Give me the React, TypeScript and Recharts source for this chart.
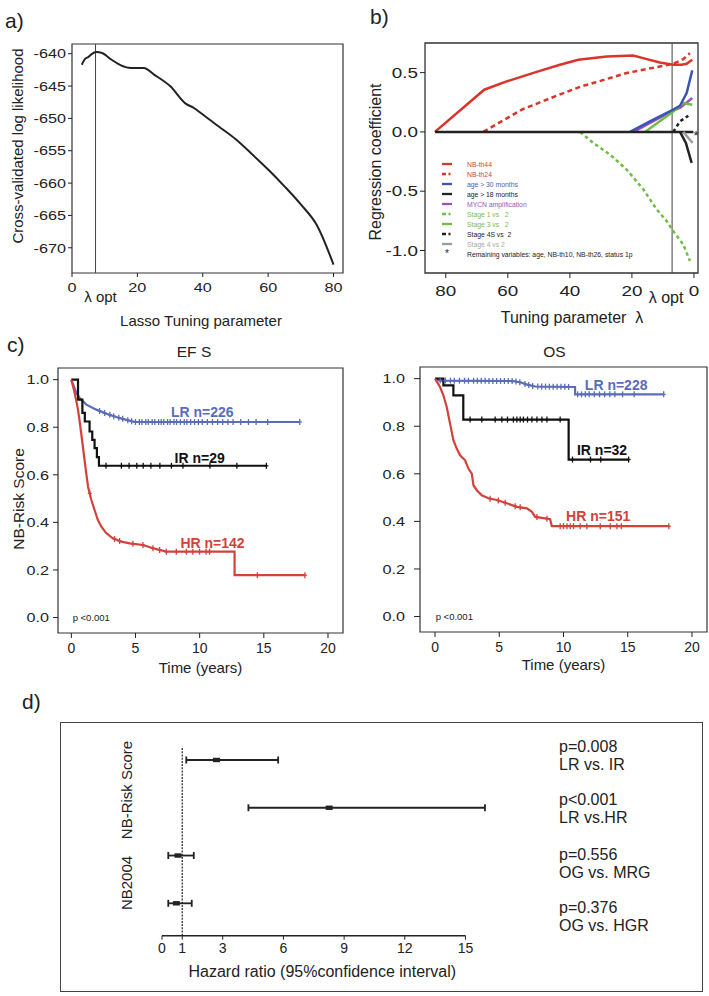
import React from "react";
import {
  LineChart,
  Line,
  ComposedChart,
  ScatterChart,
  Scatter,
  ErrorBar,
  XAxis,
  YAxis,
  ReferenceLine,
  ReferenceArea,
  ReferenceDot,
  Legend,
} from "recharts";

const FONT = "'Liberation Sans', Arial, Helvetica, sans-serif";
const INK = "#222222";

// a) cross-validated log likelihood vs lasso tuning parameter
const cvLambda = [3, 4, 5, 5.9, 7.5, 9, 12, 15, 18, 22, 25, 30, 35, 37, 40, 45, 50, 55, 60, 65, 70, 75, 80];
const cvLogLik = [
  -641.7, -640.8, -640.5, -640.1, -639.75, -639.85, -640.9, -641.8, -642.2, -642.2, -643.2, -645.0,
  -647.8, -648.3, -649.4, -651.3, -653.2, -655.5, -657.9, -660.5, -663.3, -666.6, -672.6,
];
const cvTicksX = [0, 20, 40, 60, 80];
const cvTicksY = [-640, -645, -650, -655, -660, -665, -670];
const lambdaOptA = 7.2;

// b) coefficient paths (lambda decreasing to the right)
const th44Lam = [83.5, 67.6, 60.4, 50.2, 43.2, 37.3, 28.1, 19.6, 15.2, 11.0, 6.7, 4.0, 2.4, 0.55];
const th44Coef = [0, 0.356, 0.426, 0.511, 0.567, 0.609, 0.636, 0.645, 0.614, 0.586, 0.567, 0.567, 0.575, 0.609];
const th24Lam = [67.9, 55.5, 44.8, 36.2, 32.5, 21.7, 11.0, 6.7, 3.45, 1.3];
const th24Coef = [0, 0.188, 0.3, 0.385, 0.412, 0.497, 0.552, 0.575, 0.614, 0.665];
const age30Lam = [20.6, 14.2, 6.67, 4.5, 2.36, 0.55];
const age30Coef = [0, 0.089, 0.188, 0.221, 0.328, 0.519];
const age18Lam = [4.5, 2.6, 0.75];
const age18Coef = [0, -0.093, -0.261];
const mycnLam = [19.5, 6.67, 4.5, 0.55];
const mycnCoef = [0, 0.182, 0.202, 0.286];
const st1Lam = [36.7, 32.45, 27.1, 21.7, 16.3, 12.0, 8.8, 6.67, 3.45, 1.3];
const st1Coef = [0, -0.093, -0.19, -0.317, -0.486, -0.654, -0.752, -0.837, -0.949, -1.089];
const st3Lam = [15.8, 6.67, 3.45, 0.55];
const st3Coef = [0, 0.173, 0.244, 0.23];
const st4sLam = [6.67, 4.5, 1.83];
const st4sCoef = [0, 0.089, 0.137];
const st4Lam = [3.45, 0.43];
const st4Coef = [0, -0.093];
const zeroLam = [83.5, 0.2];
const zeroCoef = [0, 0];
const coefTicksX = [0, 20, 40, 60, 80];
const coefTicksY = [0.5, 0, -0.5, -1.0];
const lambdaOptB = 7.05;

const legendNames = [
  "NB-th44",
  "NB-th24",
  "age > 30 months",
  "age > 18 months",
  "MYCN amplification",
  "Stage 1 vs   2",
  "Stage 3 vs   2",
  "Stage 4S vs  2",
  "Stage 4 vs 2",
  "Remaining variables: age, NB-th10, NB-th26, status 1p",
];

// c) Kaplan-Meier, EFS
const efsLrT = [0, 0.39, 0.65, 1.17, 1.95, 2.73, 3.5, 4.28, 4.93, 17.8];
const efsLrS = [1.0, 0.944, 0.923, 0.895, 0.874, 0.857, 0.843, 0.831, 0.822, 0.822];
const efsLrCens = [
  2.2, 2.6, 3.0, 3.3, 3.7, 4.0, 4.4, 4.7, 5.0, 5.3, 5.5, 5.8, 6.0, 6.3, 6.5, 6.8, 7.0, 7.2, 7.5, 7.7,
  8.0, 8.2, 8.5, 8.8, 9.0, 9.3, 9.6, 9.9, 10.2, 10.6, 11.0, 11.4, 11.8, 12.2, 12.6, 13.2, 13.8, 14.4, 15.3, 17.8,
];
const efsIrT = [0, 0.52, 0.86, 1.05, 1.42, 1.63, 1.81, 1.99, 2.15, 15.2];
const efsIrS = [1.0, 0.916, 0.86, 0.824, 0.782, 0.747, 0.712, 0.674, 0.638, 0.638];
const efsIrCens = [2.7, 3.9, 4.5, 5.1, 5.6, 6.2, 6.9, 7.8, 8.7, 10.8, 12.9, 15.2];
const efsHrT = [0, 0.26, 0.52, 0.7, 0.9, 1.09, 1.3, 1.56, 1.81, 2.07, 2.34, 2.73, 3.24, 3.9, 4.54, 5.58, 6.36, 7.4, 12.72, 12.72, 18.2];
const efsHrS = [
  1.0, 0.944, 0.874, 0.803, 0.719, 0.635, 0.55, 0.494, 0.452, 0.41, 0.382, 0.354, 0.333, 0.319, 0.312,
  0.305, 0.291, 0.277, 0.277, 0.178, 0.178,
];
const efsHrCens = [1.43, 3.37, 3.76, 4.8, 5.58, 6.36, 6.88, 7.4, 8.18, 8.96, 9.47, 9.99, 10.5, 10.77, 14.5, 18.2];

// c) Kaplan-Meier, OS
const osLrT = [0, 0.4, 6.1, 6.75, 7.1, 7.8, 10.9, 10.9, 17.8];
const osLrS = [1.0, 0.992, 0.99, 0.983, 0.976, 0.967, 0.965, 0.934, 0.934];
const osLrCens = [
  0.4, 0.8, 1.2, 1.5, 1.9, 2.3, 2.6, 3.0, 3.3, 3.6, 3.9, 4.2, 4.5, 4.8, 5.1, 5.4, 5.7, 6.0, 6.3, 6.6, 7.0,
  7.3, 7.6, 8.0, 8.3, 8.6, 8.9, 9.2, 9.5, 9.8, 10.1, 10.4, 11.1, 11.4, 11.7, 12.0, 12.4, 12.8, 13.2, 13.6,
  14.0, 14.6, 15.5, 17.8,
];
const osIrT = [0, 0.65, 1.43, 2.2, 10.4, 15.07];
const osIrS = [1.0, 0.972, 0.93, 0.828, 0.66, 0.66];
const osIrCens = [2.73, 3.64, 4.68, 5.2, 5.64, 6.1, 6.37, 6.63, 6.88, 7.2, 7.54, 7.93, 8.32, 8.71, 9.74, 10.7, 12.1, 12.9, 15.07];
const osHrT = [
  0, 0.39, 0.65, 0.91, 1.17, 1.43, 1.69, 1.95, 2.34, 2.6, 2.86, 2.99, 3.25, 3.64, 4.16, 4.81, 5.59, 6.37,
  7.15, 7.54, 7.8, 8.57, 8.96, 9.09, 18.2,
];
const osHrS = [
  1.0, 0.965, 0.93, 0.881, 0.811, 0.741, 0.706, 0.678, 0.657, 0.622, 0.601, 0.552, 0.531, 0.51, 0.497,
  0.49, 0.476, 0.461, 0.455, 0.44, 0.419, 0.413, 0.409, 0.38, 0.38,
];
const osHrCens = [4.29, 4.93, 5.46, 6.24, 6.63, 7.93, 8.71, 9.74, 10.0, 10.27, 10.52, 10.78, 11.3, 11.82, 12.86, 13.64, 14.16, 14.5, 18.2];

const kmTicksX = [0, 5, 10, 15, 20];
const kmTicksY = [0, 0.2, 0.4, 0.6, 0.8, 1.0];

// d) forest plot
const hrRows = [4, 3, 2, 1];
const hrEst = [2.69, 8.26, 0.79, 0.71];
const hrLow = [1.2, 4.27, 0.31, 0.31];
const hrHigh = [5.74, 15.96, 1.57, 1.47];
const hrTicks = [0, 1, 3, 6, 9, 12, 15];
const pValues = ["p=0.008", "p<0.001", "p=0.556", "p=0.376"];
const comparisons = ["LR vs. IR", "LR vs.HR", "OG vs. MRG", "OG vs. HGR"];

const RED = "#d9352b";
const BLUE = "#3b55b2";
const PURPLE = "#a24fc0";
const GREEN = "#6fbd45";
const GREY = "#9c9c9c";
const KM_BLUE = "#5a6db8";
const KM_RED = "#d2423b";

const zip = (xs: number[], ys: number[], kx: string, ky: string) =>
  xs.map((x, i) => ({ [kx]: x, [ky]: ys[i] }));

const coefSeries = [
  { lam: st1Lam, coef: st1Coef, color: GREEN, dash: "3.5 3" },
  { lam: th24Lam, coef: th24Coef, color: RED, dash: "5 3.5" },
  { lam: th44Lam, coef: th44Coef, color: RED, dash: undefined },
  { lam: mycnLam, coef: mycnCoef, color: PURPLE, dash: undefined },
  { lam: st3Lam, coef: st3Coef, color: GREEN, dash: undefined },
  { lam: age30Lam, coef: age30Coef, color: BLUE, dash: undefined },
  { lam: zeroLam, coef: zeroCoef, color: INK, dash: undefined },
  { lam: st4sLam, coef: st4sCoef, color: INK, dash: "3.5 3" },
  { lam: st4Lam, coef: st4Coef, color: GREY, dash: undefined },
  { lam: age18Lam, coef: age18Coef, color: INK, dash: undefined },
];

const legendStyles = [
  { line: RED, text: "#c9453d", dash: undefined },
  { line: RED, text: "#c9453d", dash: "4 2.5 2 10" },
  { line: BLUE, text: "#4c60b0", dash: undefined },
  { line: INK, text: INK, dash: undefined },
  { line: PURPLE, text: "#a055b8", dash: undefined },
  { line: GREEN, text: "#78bb52", dash: "4 2.5 2 10" },
  { line: GREEN, text: "#78bb52", dash: undefined },
  { line: INK, text: INK, dash: "4 2.5 2 10" },
  { line: GREY, text: "#a8a8a8", dash: undefined },
  { line: null, text: INK, dash: undefined },
];

function CoefLegend() {
  return (
    <div style={{ fontFamily: FONT, fontSize: 6.8 }}>
      {legendNames.map((name, i) => {
        const st = legendStyles[i];
        return (
          <div key={name} style={{ display: "flex", alignItems: "center", height: 10, whiteSpace: "pre" }}>
            {st.line ? (
              <svg width={25} height={10} style={{ flex: "none" }}>
                <line x1={0} x2={10} y1={5} y2={5} stroke={st.line} strokeWidth={2.3} strokeDasharray={st.dash} />
              </svg>
            ) : (
              <span style={{ width: 10, marginRight: 15, textAlign: "center", fontSize: 10, lineHeight: "10px", flex: "none" }}>*</span>
            )}
            <span style={{ color: st.text }}>{name}</span>
          </div>
        );
      })}
    </div>
  );
}

// tick labels drawn slightly wide, as in the (horizontally stretched) original figure
const wideTick = (sx: number, fontSize: number, vertical: boolean, fmt?: (v: number) => string) => (props: any) => {
  const { x, y, payload } = props;
  const label = fmt ? fmt(payload.value) : String(payload.value);
  return (
    <g transform={`translate(${x},${y}) scale(${sx},1)`}>
      <text x={0} y={0} textAnchor={vertical ? "end" : "middle"} dy={vertical ? "0.35em" : "0.71em"} fontSize={fontSize} fill={INK}>
        {label}
      </text>
    </g>
  );
};

const fmt1 = (v: number) => v.toFixed(1);

// position of a censoring mark on the drawn curve
function survAt(ts: number[], ss: number[], t: number, step: boolean) {
  let i = 0;
  while (i + 1 < ts.length && ts[i + 1] <= t) i++;
  if (step || i + 1 >= ts.length || ts[i + 1] === ts[i]) return ss[i];
  const f = (t - ts[i]) / (ts[i + 1] - ts[i]);
  return ss[i] + f * (ss[i + 1] - ss[i]);
}

const censorShape = (color: string) => (props: any) => {
  const { cx, cy } = props;
  return (
    <g stroke={color} strokeWidth={1.3}>
      <line x1={cx} x2={cx} y1={cy - 3} y2={cy + 3} />
      <line x1={cx - 2} x2={cx + 2} y1={cy} y2={cy} />
    </g>
  );
};

type Km = { t: number[]; s: number[]; cens: number[]; color: string; step: boolean };
type KmLabel = { t: number; s: number; text: string; color: string };

function KmChart(props: {
  width: number;
  margin: { top: number; right: number; bottom: number; left: number };
  yWidth: number;
  yTickSize: number;
  yTickMargin: number;
  xDomain: [number, number];
  xLabelOffset: number;
  yLabel?: string;
  curves: Km[];
  labels: KmLabel[];
  pAt: number;
}) {
  const { width, margin, yWidth, yTickSize, yTickMargin, xDomain, xLabelOffset, yLabel, curves, labels, pAt } = props;
  const yDomain: [number, number] = [-0.065, 1.049];
  return (
    <ComposedChart width={width} height={350} margin={margin}>
      <XAxis
        type="number"
        dataKey="t"
        domain={xDomain}
        allowDataOverflow
        ticks={kmTicksX}
        axisLine={false}
        tickSize={5}
        tickMargin={5}
        height={45}
        stroke={INK}
        tick={{ fontSize: 14, fill: INK }}
        label={{ value: "Time (years)", position: "insideBottom", offset: xLabelOffset, fontSize: 15, fill: INK }}
      />
      <YAxis
        type="number"
        dataKey="s"
        domain={yDomain}
        allowDataOverflow
        ticks={kmTicksY}
        axisLine={false}
        tickSize={yTickSize}
        tickMargin={yTickMargin}
        width={yWidth}
        stroke={INK}
        tick={wideTick(1.2, 13.5, true, fmt1)}
        label={
          yLabel
            ? { value: yLabel, angle: -90, position: "insideLeft", offset: 14, dy: -1.5, fontSize: 15.5, fill: INK, style: { textAnchor: "middle" } }
            : undefined
        }
      />
      <ReferenceArea x1={xDomain[0]} x2={xDomain[1]} y1={yDomain[0]} y2={yDomain[1]} fill="none" stroke="#333" strokeWidth={1.2} />
      {curves.map((c, i) => (
        <Line
          key={"l" + i}
          data={zip(c.t, c.s, "t", "s")}
          dataKey="s"
          type={c.step ? "stepAfter" : "linear"}
          stroke={c.color}
          strokeWidth={2.2}
          dot={false}
          isAnimationActive={false}
        />
      ))}
      {curves.map((c, i) => (
        <Scatter
          key={"c" + i}
          data={c.cens.map((t) => ({ t, s: survAt(c.t, c.s, t, c.step) }))}
          shape={censorShape(c.color)}
          isAnimationActive={false}
        />
      ))}
      {labels.map((l) => (
        <ReferenceDot
          key={l.text}
          x={l.t}
          y={l.s}
          r={0}
          fill="none"
          stroke="none"
          label={{ value: l.text, position: "center", fontSize: 14, fontWeight: "bold", fill: l.color }}
        />
      ))}
      <ReferenceDot
        x={pAt}
        y={0}
        r={0}
        fill="none"
        stroke="none"
        label={{ value: "p <0.001", position: "right", offset: 0, fontSize: 9.5, fill: INK }}
      />
    </ComposedChart>
  );
}

const forestData = hrRows.map((row, i) => ({
  row,
  hr: hrEst[i],
  err: [hrEst[i] - hrLow[i], hrHigh[i] - hrEst[i]],
}));

const SquareMark = (props: any) => {
  const { cx, cy } = props;
  return <rect x={cx - 3.5} y={cy - 2.2} width={7} height={4.4} fill={INK} />;
};

const abs = (left: number, top: number): React.CSSProperties => ({ position: "absolute", left, top });

export default function App() {
  const kmMarginEfs = { top: 38, right: 12, bottom: 2, left: 4 };
  const kmMarginOs = { top: 37, right: 2, bottom: 3, left: 4 };
  return (
    <div style={{ position: "absolute", left: 0, top: 0, width: 709, height: 996, background: "#fff", fontFamily: FONT, color: INK }}>
      {/* a) */}
      <div style={abs(0, 0)}>
        <LineChart width={350} height={335} data={zip(cvLambda, cvLogLik, "lam", "ll")} margin={{ top: 44, right: 7, bottom: 7, left: 4 }}>
          <XAxis
            type="number"
            dataKey="lam"
            domain={[0, 82.9]}
            allowDataOverflow
            ticks={cvTicksX}
            axisLine={false}
            tickSize={4}
            tickMargin={5}
            height={55}
            stroke={INK}
            tick={wideTick(1.2, 13.5, false)}
            label={{ value: "Lasso Tuning parameter", position: "insideBottom", offset: 1.7, dx: -6.5, fontSize: 15, fill: INK }}
          />
          <YAxis
            type="number"
            domain={[-673.9, -638.5]}
            allowDataOverflow
            ticks={cvTicksY}
            axisLine={false}
            tickSize={4}
            width={68}
            stroke={INK}
            tick={wideTick(1.2, 13.5, true)}
            label={{ value: "Cross-validated log likelihood", angle: -90, position: "insideLeft", offset: 14, dy: -12.5, fontSize: 15, fill: INK, style: { textAnchor: "middle" } }}
          />
          <ReferenceArea x1={0} x2={82.9} y1={-673.9} y2={-638.5} fill="none" stroke="#333" strokeWidth={1.2} />
          <ReferenceLine
            x={lambdaOptA}
            stroke="#444"
            strokeWidth={1}
            label={{ value: "λ opt", position: "bottom", offset: 18.6, dx: 5, fontSize: 15, fill: INK }}
          />
          <Line dataKey="ll" type="monotone" stroke={INK} strokeWidth={2} dot={false} isAnimationActive={false} />
        </LineChart>
      </div>

      {/* b) */}
      <div style={abs(355, 0)}>
        <LineChart width={354} height={335} margin={{ top: 43, right: 11, bottom: 7, left: 4 }}>
          <XAxis
            type="number"
            dataKey="lam"
            reversed
            domain={[-1.3, 86.7]}
            allowDataOverflow
            ticks={coefTicksX}
            axisLine={false}
            tickSize={5}
            tickMargin={8}
            height={55}
            stroke={INK}
            tick={wideTick(1.3, 14.5, false)}
            label={{ value: "Tuning parameter\u00a0\u00a0λ", position: "insideBottom", offset: 5.5, dx: 10.5, fontSize: 16, fill: INK }}
          />
          <YAxis
            type="number"
            dataKey="coef"
            domain={[-1.19, 0.75]}
            allowDataOverflow
            ticks={coefTicksY}
            axisLine={false}
            tickSize={5}
            width={66}
            stroke={INK}
            tick={wideTick(1.3, 14.5, true, fmt1)}
            label={{ value: "Regression coefficient", angle: -90, position: "insideLeft", offset: 16, dy: 4, fontSize: 16, fill: INK, style: { textAnchor: "middle" } }}
          />
          <ReferenceArea x1={-1.3} x2={86.7} y1={-1.19} y2={0.75} fill="none" stroke="#333" strokeWidth={1.3} />
          <ReferenceLine
            x={lambdaOptB}
            stroke="#444"
            strokeWidth={1}
            label={{ value: "λ opt", position: "bottom", offset: 18.6, dx: -6, fontSize: 16, fill: INK }}
          />
          {coefSeries.map((s, i) => (
            <Line
              key={i}
              data={zip(s.lam, s.coef, "lam", "coef")}
              dataKey="coef"
              type="linear"
              stroke={s.color}
              strokeWidth={2.5}
              strokeDasharray={s.dash}
              dot={false}
              isAnimationActive={false}
            />
          ))}
          <ReferenceDot x={-0.64} y={0} r={0} fill="none" stroke="none" label={{ value: "*", position: "center", dy: 3, fontSize: 13, fill: INK }} />
          <Legend
            content={<CoefLegend />}
            layout="horizontal"
            verticalAlign="middle"
            align="center"
            wrapperStyle={{ left: 87, top: 159, width: 260 }}
          />
        </LineChart>
      </div>

      {/* c) */}
      <div style={abs(0, 330)}>
        <KmChart
          width={355}
          margin={kmMarginEfs}
          yWidth={54}
          yTickSize={5}
          yTickMargin={4}
          xDomain={[-1.04, 21.17]}
          xLabelOffset={4.7}
          yLabel="NB-Risk Score"
          curves={[
            { t: efsLrT, s: efsLrS, cens: efsLrCens, color: KM_BLUE, step: false },
            { t: efsIrT, s: efsIrS, cens: efsIrCens, color: "#111", step: true },
            { t: efsHrT, s: efsHrS, cens: efsHrCens, color: KM_RED, step: false },
          ]}
          labels={[
            { t: 10.2, s: 0.865, text: "LR n=226", color: KM_BLUE },
            { t: 10.0, s: 0.671, text: "IR n=29", color: "#111" },
            { t: 11.0, s: 0.313, text: "HR n=142", color: KM_RED },
          ]}
          pAt={0.1}
        />
      </div>
      <div style={abs(355, 330)}>
        <KmChart
          width={354}
          margin={kmMarginOs}
          yWidth={61}
          yTickSize={6}
          yTickMargin={9}
          xDomain={[-1.17, 21.17]}
          xLabelOffset={6.7}
          curves={[
            { t: osLrT, s: osLrS, cens: osLrCens, color: KM_BLUE, step: false },
            { t: osIrT, s: osIrS, cens: osIrCens, color: "#111", step: true },
            { t: osHrT, s: osHrS, cens: osHrCens, color: KM_RED, step: false },
          ]}
          labels={[
            { t: 14.1, s: 0.972, text: "LR n=228", color: KM_BLUE },
            { t: 13.0, s: 0.7, text: "IR n=32", color: "#111" },
            { t: 12.7, s: 0.422, text: "HR n=151", color: KM_RED },
          ]}
          pAt={0.05}
        />
      </div>

      {/* d) */}
      <div
        style={{ ...abs(60, 722), width: 643, height: 270, border: "1.5px solid #444", boxSizing: "border-box" }}
      />
      <div style={abs(60, 722)}>
        <ScatterChart width={643} height={270} margin={{ top: 24.7, right: 197, bottom: 6.3, left: 0 }}>
          <XAxis
            type="number"
            dataKey="hr"
            domain={[0, 17]}
            ticks={hrTicks}
            axisLine={false}
            tickSize={4}
            tickMargin={3}
            height={50}
            stroke={INK}
            tick={{ fontSize: 14, fill: INK }}
            label={{ value: "Hazard ratio (95%confidence interval)", position: "insideBottom", offset: 9, dx: -11.7, fontSize: 16, fill: INK }}
          />
          <YAxis type="number" dataKey="row" domain={[0.322, 4.278]} width={102} tick={false} axisLine={false} tickLine={false} />
          <ReferenceLine x={1} stroke={INK} strokeWidth={1.2} strokeDasharray="2 1.2" />
          <ReferenceLine
            segment={[
              { x: 0, y: 0.322 },
              { x: 15, y: 0.322 },
            ]}
            stroke={INK}
            strokeWidth={1.6}
            ifOverflow="visible"
          />
          <Scatter data={forestData} shape={SquareMark} isAnimationActive={false}>
            <ErrorBar dataKey="err" direction="x" width={3.5} stroke={INK} strokeWidth={1.8} />
          </Scatter>
        </ScatterChart>
      </div>

      {/* text outside the plotting areas */}
      <div style={{ ...abs(5, 10), fontSize: 21, lineHeight: "21px" }}>a)</div>
      <div style={{ ...abs(370, 6), fontSize: 21, lineHeight: "21px" }}>b)</div>
      <div style={{ ...abs(7, 334), fontSize: 21, lineHeight: "21px" }}>c)</div>
      <div style={{ ...abs(22, 691), fontSize: 21, lineHeight: "21px" }}>d)</div>
      <div style={{ ...abs(194, 352), fontSize: 15.5, transform: "translate(-50%, -50%)", whiteSpace: "pre" }}>EF S</div>
      <div style={{ ...abs(554.5, 352), fontSize: 15.5, transform: "translate(-50%, -50%)" }}>OS</div>
      {["NB-Risk Score", "NB2004"].map((g, i) => (
        <div
          key={g}
          style={{ ...abs(126, i === 0 ? 790 : 883), fontSize: 15, whiteSpace: "nowrap", transform: "translate(-50%, -50%) rotate(-90deg)" }}
        >
          {g}
        </div>
      ))}
      {pValues.map((p, i) => (
        <div key={p} style={{ ...abs(559, [738, 791, 846, 899][i]), fontSize: 16, lineHeight: "18px" }}>
          <div>{p}</div>
          <div>{comparisons[i]}</div>
        </div>
      ))}
    </div>
  );
}
